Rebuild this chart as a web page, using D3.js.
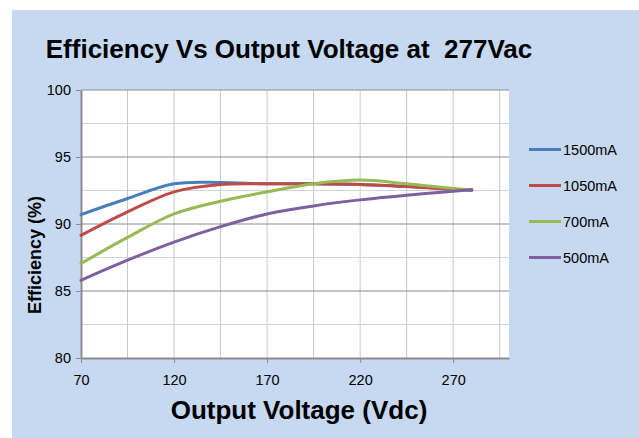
<!DOCTYPE html>
<html>
<head>
<meta charset="UTF-8" />
<script src="https://d3js.org/d3.v7.min.js"></script>
<style>
  body { margin: 0; background: #fff; }
  svg { display: block; font-family: "Liberation Sans", Arial, sans-serif; }
</style>
</head>
<body>
<div id="chart"></div>
<script>
// Données
const voltages = [70, 95, 120, 145, 170, 195, 220, 245, 270, 280];
const eff1500 = [90.7, 91.9, 93.0, 93.1, 93.0, 93.0, 92.95, 92.8, 92.6, 92.5];
const eff1050 = [89.15, 90.9, 92.4, 92.95, 93.0, 93.0, 92.95, 92.8, 92.6, 92.55];
const eff700 = [87.05, 89.0, 90.75, 91.7, 92.4, 93.0, 93.28, 93.0, 92.65, 92.55];
const eff500 = [85.8, 87.3, 88.65, 89.8, 90.75, 91.35, 91.8, 92.15, 92.45, 92.55];
const seriesNames = ["1500mA", "1050mA", "700mA", "500mA"];
const seriesColors = ["#4a7ebb", "#be4b48", "#98b954", "#7d60a0"];
const xTicks = [70, 120, 170, 220, 270];
const yTicks = [80, 85, 90, 95, 100];

const series = [eff1500, eff1050, eff700, eff500].map((vals, i) => ({
  name: seriesNames[i],
  color: seriesColors[i],
  values: vals.map((v, j) => ({ x: voltages[j], y: v }))
}));

const width = 639, height = 438;
const svg = d3.select("#chart").append("svg")
  .attr("width", width).attr("height", height);

// fond bleu
svg.append("rect")
  .attr("x", 12).attr("y", 10)
  .attr("width", width - 12).attr("height", height - 10)
  .attr("fill", "#c6d9f0");

const plot = { left: 81, right: 509, top: 90, bottom: 358 };
const x = d3.scaleLinear().domain([70, 300]).range([plot.left, plot.right]);
const y = d3.scaleLinear().domain([80, 100]).range([plot.bottom, plot.top]);

svg.append("rect")
  .attr("x", plot.left).attr("y", plot.top)
  .attr("width", plot.right - plot.left).attr("height", plot.bottom - plot.top)
  .attr("fill", "#fff");

// grille verticale (tous les 25)
svg.append("g").selectAll("line")
  .data(d3.range(95, 301, 25))
  .join("line")
  .attr("x1", d => x(d)).attr("x2", d => x(d))
  .attr("y1", plot.top).attr("y2", plot.bottom)
  .attr("stroke", "#c8c8c8").attr("stroke-width", 1);

// grille horizontale : mineure 2.5, majeure 5
svg.append("g").selectAll("line")
  .data(d3.range(82.5, 100.1, 2.5))
  .join("line")
  .attr("x1", plot.left).attr("x2", plot.right)
  .attr("y1", d => y(d)).attr("y2", d => y(d))
  .attr("stroke", d => d % 5 === 0 ? "#8c8c8c" : "#d4d4d4")
  .attr("stroke-width", 1.2);

// axes
const xAxis = d3.axisBottom(x).tickValues(xTicks).tickSize(5).tickPadding(12).tickSizeOuter(0);
const gx = svg.append("g")
  .attr("transform", `translate(0,${plot.bottom})`)
  .call(xAxis);
gx.select(".domain").attr("stroke", "#8c8c8c").attr("stroke-width", 2);
gx.selectAll(".tick line").attr("stroke", "#8c8c8c");
gx.selectAll("text").attr("font-size", 14.5).attr("fill", "#000")
  .attr("font-family", "Liberation Sans, Arial, sans-serif");

const yAxis = d3.axisLeft(y).tickValues(yTicks).tickSize(5).tickPadding(5).tickSizeOuter(0);
const gy = svg.append("g")
  .attr("transform", `translate(${plot.left},0)`)
  .call(yAxis);
gy.select(".domain").attr("stroke", "#8c8c8c").attr("stroke-width", 2);
gy.selectAll(".tick line").attr("stroke", "#8c8c8c");
gy.selectAll("text").attr("font-size", 14.5).attr("fill", "#000")
  .attr("font-family", "Liberation Sans, Arial, sans-serif");

// courbes lissées
const line = d3.line()
  .x(d => x(d.x)).y(d => y(d.y))
  .curve(d3.curveCatmullRom.alpha(0.5));

svg.append("g").selectAll("path")
  .data(series)
  .join("path")
  .attr("d", d => line(d.values))
  .attr("fill", "none")
  .attr("stroke", d => d.color)
  .attr("stroke-width", 3)
  .attr("stroke-linecap", "round");

// légende
const legend = svg.append("g").selectAll("g")
  .data(series)
  .join("g")
  .attr("transform", (d, i) => `translate(529,${149.5 + i * 36})`);
legend.append("line")
  .attr("x1", 0).attr("x2", 32)
  .attr("stroke", d => d.color).attr("stroke-width", 3);
legend.append("text")
  .attr("x", 34).attr("dy", "0.35em")
  .attr("font-size", 14.5)
  .text(d => d.name);

// titres
svg.append("text")
  .attr("x", 289).attr("y", 58)
  .attr("text-anchor", "middle")
  .attr("font-size", 26).attr("font-weight", "bold")
  .attr("xml:space", "preserve")
  .text("Efficiency Vs Output Voltage at  277Vac");

svg.append("text")
  .attr("x", 299).attr("y", 419)
  .attr("text-anchor", "middle")
  .attr("font-size", 26).attr("font-weight", "bold")
  .text("Output Voltage (Vdc)");

svg.append("text")
  .attr("transform", "translate(41,255) rotate(-90)")
  .attr("text-anchor", "middle")
  .attr("font-size", 18).attr("font-weight", "bold")
  .text("Efficiency (%)");
</script>
</body>
</html>
